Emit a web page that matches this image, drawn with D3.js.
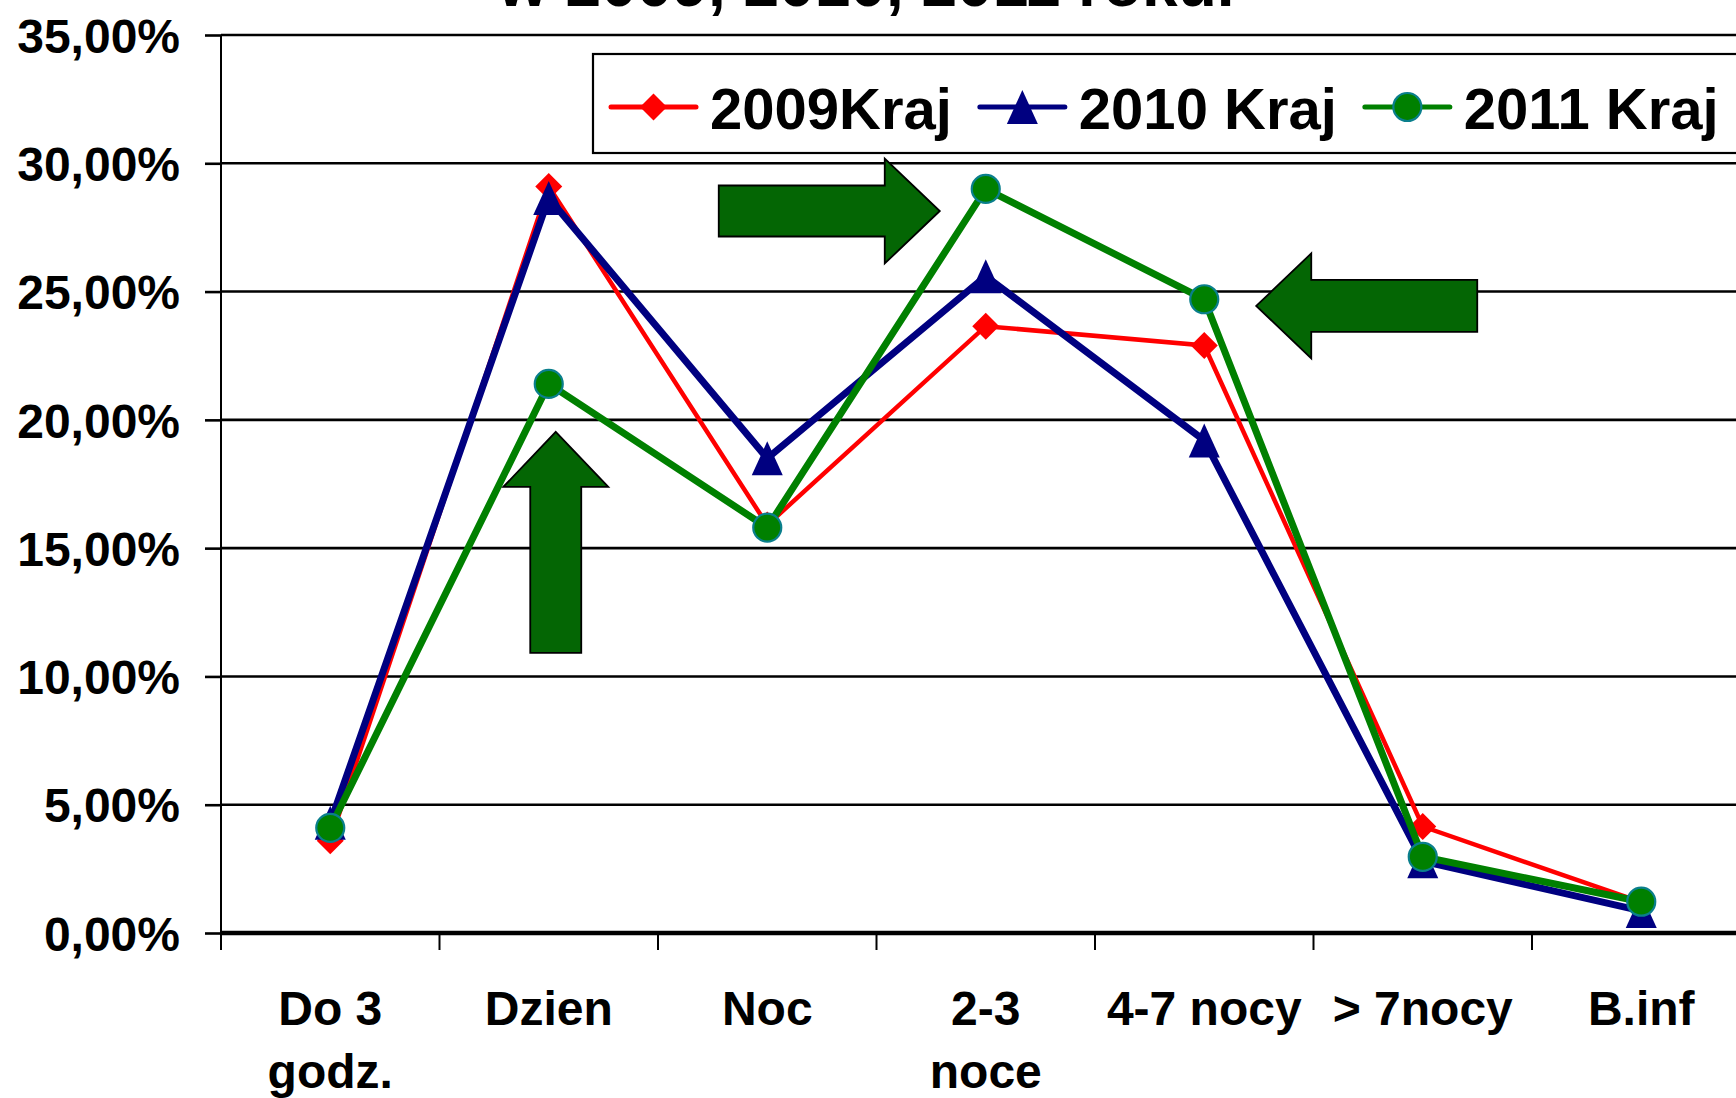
<!DOCTYPE html>
<html>
<head>
<meta charset="utf-8">
<script src="https://cdn.jsdelivr.net/npm/d3@7"></script>
<style>
  body { margin: 0; background: #fff; }
  svg { display: block; }
  text { font-family: "Liberation Sans", Arial, sans-serif; font-weight: bold; fill: #000; }
</style>
</head>
<body>
<svg width="1736" height="1098"></svg>
<script>
// Data (percent)
let categories = ["Do 3 godz.", "Dzien", "Noc", "2-3 noce", "4-7 nocy", "> 7nocy", "B.inf"];
let categoryLines = [["Do 3", "godz."], ["Dzien"], ["Noc"], ["2-3", "noce"], ["4-7 nocy"], ["> 7nocy"], ["B.inf"]];
let values2009 = [3.6, 29.1, 15.9, 23.65, 22.9, 4.15, 1.2];
let values2010 = [4.3, 28.65, 18.5, 25.6, 19.2, 2.8, 0.86];
let values2011 = [4.1, 21.4, 15.8, 29.0, 24.7, 2.97, 1.22];
let seriesNames = ["2009Kraj", "2010 Kraj", "2011 Kraj"];
let yTicks = [0, 5, 10, 15, 20, 25, 30, 35];

let svg = d3.select("svg"),
    width = +svg.attr("width"),
    height = +svg.attr("height");

// Plot area runs off the right edge, like the original slide
let plotLeft = 221, bandW = 218.5;

let x = d3.scaleBand()
    .domain(categories)
    .range([plotLeft, plotLeft + bandW * categories.length]);

let y = d3.scaleLinear()
    .domain([0, 35])
    .range([933, 35]);

let cx = c => x(c) + x.bandwidth() / 2;

// Polish number format: 35,00%
let pl = d3.formatLocale({ decimal: ",", thousands: " ", grouping: [3], currency: ["", " zł"] });
let fmt = pl.format(".2f");

// Title (only the bottom of it is visible)
svg.append("text")
    .attr("x", 498)
    .attr("y", 6)
    .style("font-size", "64px")
    .text("w 2009, 2010, 2011 roku.");

// Gridlines
svg.append("g")
    .selectAll("line")
    .data(yTicks.filter(d => d > 0))
    .enter().append("line")
    .attr("x1", plotLeft)
    .attr("x2", width)
    .attr("y1", d => y(d))
    .attr("y2", d => y(d))
    .style("stroke", "#000")
    .style("stroke-width", 2.6);

// Y axis with labels
let yAxis = svg.append("g")
    .attr("transform", "translate(" + plotLeft + ",0)")
    .call(d3.axisLeft(y).tickValues(yTicks).tickSize(16).tickPadding(25).tickFormat(d => fmt(d) + "%"));
yAxis.select(".domain").remove();
yAxis.selectAll(".tick line").style("stroke", "#000").style("stroke-width", 2.6);
yAxis.selectAll("text")
    .style("font-size", "48px")
    .style("font-family", "'Liberation Sans', Arial, sans-serif")
    .style("font-weight", "bold")
    .attr("dy", "0.36em");

svg.append("line")
    .attr("x1", plotLeft).attr("x2", plotLeft)
    .attr("y1", y(35)).attr("y2", y(0) + 17)
    .style("stroke", "#000").style("stroke-width", 2);

// X axis line and tick marks at band boundaries
svg.append("line")
    .attr("x1", plotLeft).attr("x2", width)
    .attr("y1", y(0)).attr("y2", y(0))
    .style("stroke", "#000").style("stroke-width", 4.5);

svg.append("g")
    .selectAll("line")
    .data(categories.slice(1))
    .enter().append("line")
    .attr("x1", d => x(d)).attr("x2", d => x(d))
    .attr("y1", y(0)).attr("y2", y(0) + 17)
    .style("stroke", "#000").style("stroke-width", 2);

// Category labels
let catLabels = svg.append("g")
    .selectAll("text")
    .data(categories)
    .enter().append("text")
    .attr("text-anchor", "middle")
    .attr("y", 1025)
    .style("font-size", "48px");

catLabels.each(function(d, i) {
    d3.select(this).selectAll("tspan")
        .data(categoryLines[i])
        .enter().append("tspan")
        .attr("x", cx(d))
        .attr("dy", (t, j) => j === 0 ? 0 : 63)
        .text(t => t);
});

// Marker shapes
function diamond(s) {
    return "M0," + (-s) + "L" + s + ",0L0," + s + "L" + (-s) + ",0Z";
}
function triangle(w, h) {
    return "M0," + (-h / 2) + "L" + (w / 2) + "," + (h / 2) + "L" + (-w / 2) + "," + (h / 2) + "Z";
}

let series = [
    { name: seriesNames[0], values: values2009, color: "#ff0000", width: 4.5, marker: "diamond" },
    { name: seriesNames[1], values: values2010, color: "#000080", width: 7, marker: "triangle" },
    { name: seriesNames[2], values: values2011, color: "#008000", width: 7, marker: "circle" }
];

function drawMarker(g, s) {
    if (s.marker === "diamond") {
        g.append("path").attr("d", diamond(13.5)).style("fill", s.color);
    } else if (s.marker === "triangle") {
        g.append("path").attr("d", triangle(31, 34)).style("fill", s.color);
    } else {
        g.append("circle").attr("r", 14)
            .style("fill", s.color)
            .style("stroke", "#0a7f8c")
            .style("stroke-width", 2.2);
    }
}

let line = d3.line()
    .x((d, i) => cx(categories[i]))
    .y(d => y(d));

series.forEach(function(s) {
    svg.append("path")
        .datum(s.values)
        .attr("d", line)
        .style("fill", "none")
        .style("stroke", s.color)
        .style("stroke-width", s.width)
        .style("stroke-linejoin", "miter");

    svg.append("g")
        .selectAll("g")
        .data(s.values)
        .enter().append("g")
        .attr("transform", (d, i) => "translate(" + cx(categories[i]) + "," + y(d) + ")")
        .each(function() { drawMarker(d3.select(this), s); });
});

// Annotation arrows (tip placed against category and value)
let arrows = [
    { cat: "Dzien", dx: 7, value: 19.53, dir: [0, -1], half: 25.5 },
    { cat: "2-3 noce", dx: -46, value: 28.14, dir: [1, 0], half: 25.5 },
    { cat: "4-7 nocy", dx: 52, value: 24.44, dir: [-1, 0], half: 26 }
];

function arrowPoints(a) {
    let tx = cx(a.cat) + a.dx, ty = y(a.value);
    let ux = a.dir[0], uy = a.dir[1];
    let px = -uy, py = ux;
    let L = 221, headLen = 55, headHalf = 52.5, h = a.half;
    let bx = tx - ux * headLen, by = ty - uy * headLen;
    let ex = tx - ux * L, ey = ty - uy * L;
    return [
        [tx, ty],
        [bx + px * headHalf, by + py * headHalf],
        [bx + px * h, by + py * h],
        [ex + px * h, ey + py * h],
        [ex - px * h, ey - py * h],
        [bx - px * h, by - py * h],
        [bx - px * headHalf, by - py * headHalf]
    ];
}

svg.append("g")
    .selectAll("polygon")
    .data(arrows)
    .enter().append("polygon")
    .attr("points", d => arrowPoints(d).map(p => p.join(",")).join(" "))
    .style("fill", "#046604")
    .style("stroke", "#000")
    .style("stroke-width", 1.8);

// Legend
let legend = svg.append("g");
legend.append("rect")
    .attr("x", 593)
    .attr("y", 54)
    .attr("width", 1200)
    .attr("height", 99)
    .style("fill", "#fff")
    .style("stroke", "#000")
    .style("stroke-width", 2.2);

let lx = 611, ly = 107;
series.forEach(function(s) {
    legend.append("line")
        .attr("x1", lx).attr("x2", lx + 85)
        .attr("y1", ly).attr("y2", ly)
        .style("stroke", s.color)
        .style("stroke-width", 5)
        .style("stroke-linecap", "round");
    let m = legend.append("g").attr("transform", "translate(" + (lx + 42.5) + "," + ly + ")");
    drawMarker(m, s);
    let t = legend.append("text")
        .attr("x", lx + 99)
        .attr("y", 129)
        .style("font-size", "58px")
        .text(s.name);
    lx = lx + 99 + t.node().getComputedTextLength() + 28;
});
</script>
</body>
</html>
